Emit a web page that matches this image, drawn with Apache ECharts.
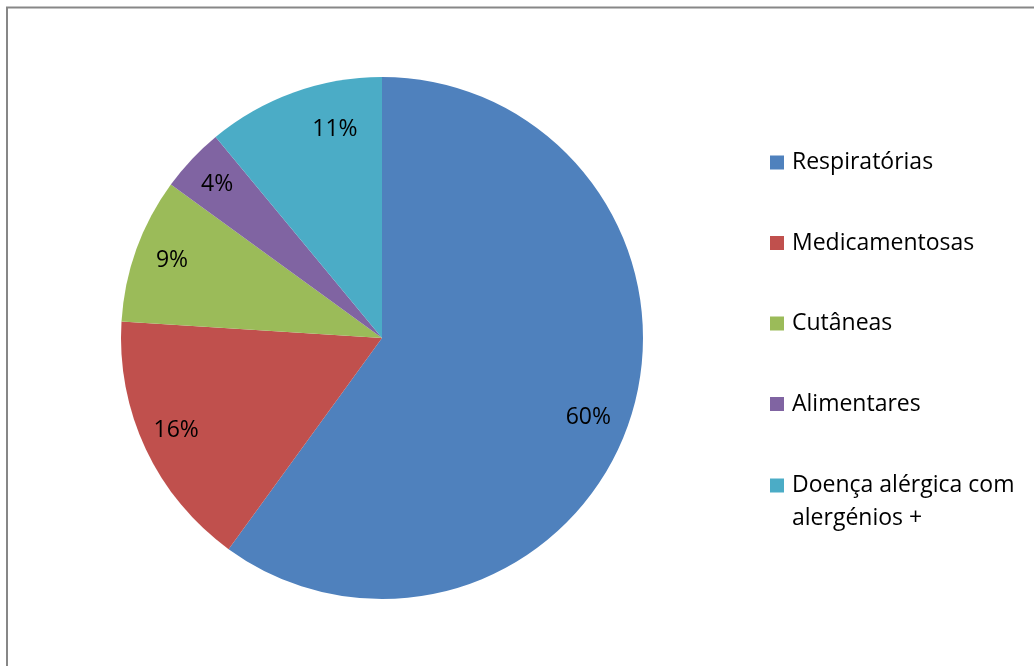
<!DOCTYPE html>
<html>
<head>
<meta charset="utf-8">
<script src="https://cdn.jsdelivr.net/npm/echarts@6/dist/echarts.min.js"></script>
<style>
  html, body { margin: 0; padding: 0; background: #fff; }
  #chart { width: 1034px; height: 666px; }
</style>
</head>
<body>
<div id="chart"></div>
<script>
// Allergy categories and their shares (%)
const categories = ['Respiratórias', 'Medicamentosas', 'Cutâneas', 'Alimentares', 'Doença alérgica com alergénios +'];
const shares = [60, 16, 9, 4, 11];
const colors = ['#4F81BD', '#C0504D', '#9BBB59', '#8064A2', '#4BACC6'];

const FONT = '"Open Sans", sans-serif';
const CX = 382, CY = 338, R = 261;

// small nudges for individual percentage labels (px)
const labelNudge = { 0: [-10, 9], 4: [30, 5], 1: [0, -4], 2: [4, 0], 3: [1, 2] };

const pieData = categories.map((name, i) => ({ name, value: shares[i], itemStyle: { color: colors[i] } }));
const labelData = categories.map((name, i) => ({ name, value: shares[i] }));

const chart = echarts.init(document.getElementById('chart'), null, { renderer: 'canvas' });

chart.setOption({
  backgroundColor: '#ffffff',
  animation: false,
  color: colors,
  graphic: [{
    type: 'rect',
    shape: { x: 7, y: 7.5, width: 1100, height: 700 },
    style: { fill: 'none', stroke: '#878787', lineWidth: 2 },
    silent: true,
    z: -10
  }],
  legend: [
    {
      data: categories.slice(0, 4),
      orient: 'vertical',
      left: 770,
      top: 151,
      padding: 0,
      itemWidth: 14,
      itemHeight: 14,
      itemGap: 57.5,
      icon: 'rect',
      selectedMode: false,
      textStyle: { fontFamily: FONT, fontSize: 23, color: '#000', padding: [0, 0, 0, 3] }
    },
    {
      data: [categories[4]],
      orient: 'vertical',
      left: 770,
      top: 436,
      padding: 0,
      itemWidth: 14,
      itemHeight: 14,
      icon: 'rect',
      selectedMode: false,
      // leading empty line keeps the marker level with the first text line
      formatter: () => '\nDoença alérgica com\nalergénios +',
      textStyle: { fontFamily: FONT, fontSize: 23, color: '#000', lineHeight: 33, padding: [0, 0, 0, 3] }
    }
  ],
  series: [
    {
      type: 'pie',
      center: [CX, CY],
      radius: [0, R],
      startAngle: 90,
      clockwise: true,
      data: pieData,
      label: { show: false },
      labelLine: { show: false },
      emphasis: { disabled: true }
    },
    {
      // transparent ring that carries the percentage labels at ~0.86 R
      type: 'pie',
      center: [CX, CY],
      radius: [R * 0.72, R],
      startAngle: 90,
      clockwise: true,
      data: labelData,
      silent: true,
      itemStyle: { color: 'rgba(0,0,0,0)' },
      label: {
        show: true,
        position: 'inside',
        formatter: '{c}%',
        fontFamily: FONT,
        fontSize: 23,
        color: '#000'
      },
      labelLayout: (p) => {
        const n = labelNudge[p.dataIndex] || [0, 0];
        return { dx: n[0], dy: n[1] };
      },
      labelLine: { show: false },
      emphasis: { disabled: true }
    }
  ]
});
</script>
</body>
</html>
